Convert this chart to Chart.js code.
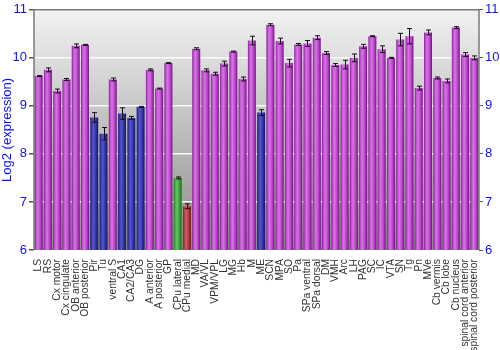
<!DOCTYPE html>
<html>
<head>
<meta charset="utf-8">
<script src="https://cdn.jsdelivr.net/npm/chart.js@4"></script>
<style>
  html, body { margin: 0; padding: 0; background: #fff; }
  #wrap { width: 500px; height: 350px; }
</style>
</head>
<body>
<div id="wrap"><canvas id="chart"></canvas></div>
<script>
const regions = ['LS', 'RS', 'Cx motor', 'Cx cingulate', 'OB anterior', 'OB posterior', 'Pir', 'Tu',
    'ventral S', 'CA1', 'CA2/CA3', 'DG', 'A anterior', 'A posterior', 'GP', 'CPu lateral', 'CPu medial',
    'MD', 'VA/VL', 'VPM/VPL', 'LG', 'MG', 'Hb', 'M', 'ME', 'SCN', 'MPA', 'SO', 'Pa', 'SPa ventral',
    'SPa dorsal', 'DM', 'VMH', 'Arc', 'LH', 'PAG', 'SC', 'IC', 'VTA', 'SN', 'Tg', 'Pn', 'MVe',
    'Cb vermis', 'Cb lobe', 'Cb nucleus', 'spinal cord anterior', 'spinal cord posterior'];

const expression = [9.62, 9.75, 9.31, 9.55, 10.25, 10.27, 8.76, 8.42,
    9.55, 8.84, 8.75, 8.98, 9.75, 9.36, 9.89, 7.50, 6.91,
    10.19, 9.74, 9.67, 9.88, 10.13, 9.56, 10.36, 8.86, 10.69, 10.35, 9.89, 10.28, 10.30,
    10.42, 10.10, 9.85, 9.86, 10.00, 10.24, 10.45, 10.18, 10.00, 10.38, 10.45, 9.37, 10.53,
    9.58, 9.52, 10.63, 10.07, 10.00];

const stdErr = [0.01, 0.04, 0.04, 0.02, 0.04, 0.01, 0.10, 0.13,
    0.03, 0.12, 0.03, 0.01, 0.02, 0.01, 0.01, 0.02, 0.05,
    0.02, 0.03, 0.03, 0.05, 0.01, 0.04, 0.09, 0.06, 0.02, 0.06, 0.08, 0.02, 0.06,
    0.04, 0.03, 0.03, 0.09, 0.08, 0.04, 0.01, 0.07, 0.01, 0.13, 0.16, 0.04, 0.05,
    0.02, 0.04, 0.02, 0.04, 0.04];

// colour group per region: m = magenta, b = blue, g = green, r = red
const groups = ['m', 'm', 'm', 'm', 'm', 'm', 'b', 'b',
    'm', 'b', 'b', 'b', 'm', 'm', 'm', 'g', 'r',
    'm', 'm', 'm', 'm', 'm', 'm', 'm', 'b', 'm', 'm', 'm', 'm', 'm',
    'm', 'm', 'm', 'm', 'm', 'm', 'm', 'm', 'm', 'm', 'm', 'm', 'm',
    'm', 'm', 'm', 'm', 'm'];

const yTicks = [6, 7, 8, 9, 10, 11];

const palette = {
    m: ['#7c1c8c', '#c24ed2', '#d774e4', '#b43fc4', '#6a1478'],
    b: ['#1a1a6c', '#3a3ab0', '#5656c8', '#2e2ea0', '#151560'],
    g: ['#247a24', '#3faa3f', '#62c862', '#349a34', '#1e6a1e'],
    r: ['#7c2424', '#b43e3e', '#cc6262', '#a43434', '#6a1c1c']
};

function barFill(ctx) {
    const chart = ctx.chart;
    const cols = palette[groups[ctx.dataIndex]] || palette.m;
    const xs = chart.scales.x;
    if (!xs || !chart.chartArea) return cols[1];
    const cx = xs.getPixelForValue(ctx.dataIndex);
    const w = (chart.chartArea.right - chart.chartArea.left) / regions.length * 0.86;
    const g = chart.ctx.createLinearGradient(cx - w / 2, 0, cx + w / 2, 0);
    g.addColorStop(0, cols[0]);
    g.addColorStop(0.18, cols[1]);
    g.addColorStop(0.4, cols[2]);
    g.addColorStop(0.75, cols[3]);
    g.addColorStop(1, cols[4]);
    return g;
}

const plotBackground = {
    id: 'plotBackground',
    beforeDraw(chart) {
        const { ctx, chartArea: a } = chart;
        const g = ctx.createLinearGradient(0, a.top, 0, a.bottom);
        g.addColorStop(0, '#f2f2f2');
        g.addColorStop(1, '#8a8a8a');
        ctx.save();
        ctx.fillStyle = g;
        ctx.fillRect(a.left, a.top, a.right - a.left, a.bottom - a.top);
        ctx.restore();
    },
    afterDraw(chart) {
        const { ctx, chartArea: a } = chart;
        ctx.save();
        ctx.strokeStyle = '#7a7a7a';
        ctx.lineWidth = 1.5;
        ctx.beginPath();
        ctx.moveTo(a.left, a.bottom);
        ctx.lineTo(a.left, a.top);
        ctx.lineTo(a.right, a.top);
        ctx.lineTo(a.right, a.bottom);
        ctx.stroke();
        ctx.restore();
    }
};

const errorBars = {
    id: 'errorBars',
    afterDatasetsDraw(chart) {
        const { ctx } = chart;
        const xs = chart.scales.x, ys = chart.scales.y;
        ctx.save();
        ctx.strokeStyle = '#111';
        ctx.lineWidth = 1;
        expression.forEach((v, i) => {
            const x = Math.round(xs.getPixelForValue(i)) + 0.5;
            const top = ys.getPixelForValue(v + stdErr[i]);
            const bot = ys.getPixelForValue(v - stdErr[i]);
            ctx.beginPath();
            ctx.moveTo(x, top);
            ctx.lineTo(x, bot);
            ctx.moveTo(x - 2.5, top);
            ctx.lineTo(x + 2.5, top);
            ctx.moveTo(x - 2.5, bot);
            ctx.lineTo(x + 2.5, bot);
            ctx.stroke();
        });
        ctx.restore();
    }
};

const font = { family: '"Liberation Sans", Arial, sans-serif', size: 13 };

const yTickCb = v => (yTicks.includes(v) ? v : '');

new Chart(document.getElementById('chart'), {
    type: 'bar',
    data: {
        labels: regions,
        datasets: [{
            data: expression,
            backgroundColor: barFill,
            borderWidth: 0,
            barPercentage: 0.86,
            categoryPercentage: 1
        }]
    },
    options: {
        responsive: true,
        maintainAspectRatio: false,
        animation: false,
        layout: { padding: { top: 9, right: 0, left: 0, bottom: 0 } },
        plugins: { legend: { display: false }, tooltip: { enabled: false } },
        scales: {
            x: {
                grid: { display: false },
                border: { display: false },
                ticks: {
                    autoSkip: false,
                    maxRotation: 90,
                    minRotation: 90,
                    padding: 1,
                    color: '#333',
                    font: { family: font.family, size: 10.3 }
                },
                afterFit(scale) { scale.height = 100; }
            },
            y: {
                min: 6,
                max: 11,
                position: 'left',
                border: { display: false },
                grid: {
                    color: c => (c.tick.value === 6 || c.tick.value === 11) ? 'rgba(0,0,0,0)' : 'rgba(255,255,255,0.9)',
                    lineWidth: 1.5,
                    tickLength: 5,
                    tickColor: '#555'
                },
                ticks: { stepSize: 1, color: '#1010ee', font, padding: 2, callback: yTickCb },
                title: { display: true, text: 'Log2 (expression)', color: '#1010ee', font, padding: 0 },
                afterFit(scale) { scale.width = 34; }
            },
            y2: {
                min: 6,
                max: 11,
                position: 'right',
                border: { display: false },
                grid: { drawOnChartArea: false, tickLength: 4, tickColor: '#555' },
                ticks: { stepSize: 1, color: '#1010ee', font, padding: 2, callback: yTickCb },
                afterFit(scale) { scale.width = 21; }
            }
        }
    },
    plugins: [plotBackground, errorBars]
});
</script>
</body>
</html>
